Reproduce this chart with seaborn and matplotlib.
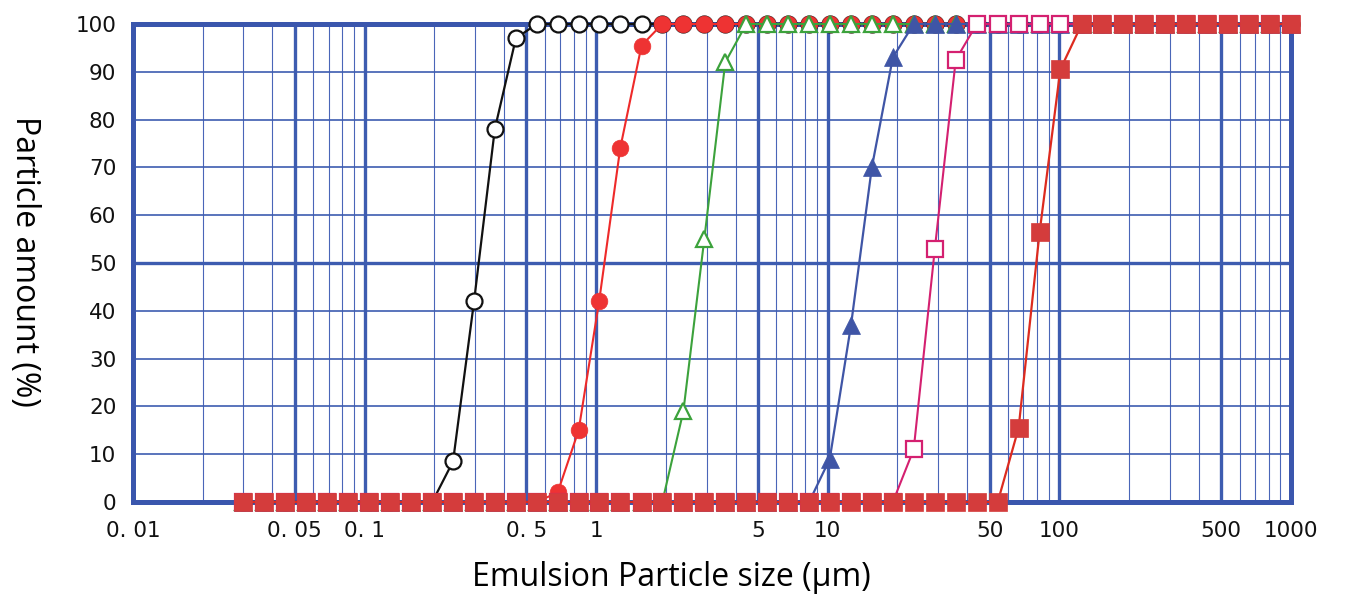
import matplotlib
matplotlib.use('Agg')
import matplotlib.pyplot as plt
from matplotlib.ticker import FixedLocator, LogLocator, NullFormatter
import seaborn as sns

# particle size channels (um)
sizes = [0.030, 0.0369, 0.0455, 0.0560, 0.0690, 0.0850, 0.105, 0.129, 0.159, 0.196,
         0.241, 0.297, 0.365, 0.450, 0.554, 0.682, 0.840, 1.03, 1.27, 1.57,
         1.93, 2.38, 2.93, 3.61, 4.45, 5.48, 6.75, 8.31, 10.2, 12.6,
         15.5, 19.1, 23.5, 29.0, 35.7, 44.0, 54.2, 66.7, 82.2, 101,
         125, 153, 189, 233, 287, 353, 435, 536, 660, 812, 1000]

# cumulative particle amount (%) for each emulsion
black_open = [0, 0, 0, 0, 0, 0, 0, 0, 0, 0,
              8.5, 42, 78, 97, 100, 100, 100, 100, 100, 100,
              100, 100, 100, 100, 100, 100, 100, 100, 100, 100,
              100, 100, 100, 100, 100, 100, 100, 100, 100, 100,
              100, 100, 100, 100, 100, 100, 100, 100, 100, 100, 100]
red_circle = [0, 0, 0, 0, 0, 0, 0, 0, 0, 0,
              0, 0, 0, 0, 0, 2, 15, 42, 74, 95.5,
              100, 100, 100, 100, 100, 100, 100, 100, 100, 100,
              100, 100, 100, 100, 100, 100, 100, 100, 100, 100,
              100, 100, 100, 100, 100, 100, 100, 100, 100, 100, 100]
green_tri = [0, 0, 0, 0, 0, 0, 0, 0, 0, 0,
             0, 0, 0, 0, 0, 0, 0, 0, 0, 0,
             0, 19, 55, 92, 100, 100, 100, 100, 100, 100,
             100, 100, 100, 100, 100, 100, 100, 100, 100, 100,
             100, 100, 100, 100, 100, 100, 100, 100, 100, 100, 100]
blue_tri = [0, 0, 0, 0, 0, 0, 0, 0, 0, 0,
            0, 0, 0, 0, 0, 0, 0, 0, 0, 0,
            0, 0, 0, 0, 0, 0, 0, 0, 9, 37,
            70, 93, 100, 100, 100, 100, 100, 100, 100, 100,
            100, 100, 100, 100, 100, 100, 100, 100, 100, 100, 100]
pink_square = [0, 0, 0, 0, 0, 0, 0, 0, 0, 0,
               0, 0, 0, 0, 0, 0, 0, 0, 0, 0,
               0, 0, 0, 0, 0, 0, 0, 0, 0, 0,
               0, 0, 11, 53, 92.5, 100, 100, 100, 100, 100,
               100, 100, 100, 100, 100, 100, 100, 100, 100, 100, 100]
red_square = [0, 0, 0, 0, 0, 0, 0, 0, 0, 0,
              0, 0, 0, 0, 0, 0, 0, 0, 0, 0,
              0, 0, 0, 0, 0, 0, 0, 0, 0, 0,
              0, 0, 0, 0, 0, 0, 0, 15.5, 56.5, 90.5,
              100, 100, 100, 100, 100, 100, 100, 100, 100, 100, 100]

x_ticks = [0.01, 0.05, 0.1, 0.5, 1, 5, 10, 50, 100, 500, 1000]
x_labels = ['0. 01', '0. 05', '0. 1', '0. 5', '1', '5', '10', '50', '100', '500', '1000']
y_ticks = [0, 10, 20, 30, 40, 50, 60, 70, 80, 90, 100]

grid_blue = '#3d5cb0'

sns.set_style('white')
fig = plt.figure(figsize=(13.46, 5.94), dpi=100)
ax = fig.add_axes([0.0988, 0.1549, 0.8603, 0.8047])

ax.set_xscale('log')
ax.set_xlim(0.01, 1000)
ax.set_ylim(0, 100)

ax.xaxis.set_major_locator(FixedLocator(x_ticks))
ax.set_xticklabels(x_labels)
ax.xaxis.set_minor_locator(LogLocator(base=10, subs=(2, 3, 4, 6, 7, 8, 9)))
ax.xaxis.set_minor_formatter(NullFormatter())
ax.set_yticks(y_ticks)

ax.grid(True, which='major', axis='x', color=grid_blue, lw=2.4)
ax.grid(True, which='minor', axis='x', color='#4a66b8', lw=0.8)
ax.grid(True, which='major', axis='y', color=grid_blue, lw=1.2)
ax.axhline(50, color=grid_blue, lw=2.4, zorder=1)

for s in ax.spines.values():
    s.set_color('#3a56ad')
    s.set_linewidth(3.6)

ax.tick_params(axis='both', which='both', length=0)
ax.tick_params(axis='y', pad=12, labelsize=15.5, labelcolor='#111111')
ax.tick_params(axis='x', pad=14, labelsize=15.5, labelcolor='#111111')

common = dict(ax=ax, estimator=None, sort=False, clip_on=False)

sns.lineplot(x=sizes, y=black_open, color='#111111', lw=1.6, marker='o', ms=11.5,
             markerfacecolor='white', markeredgecolor='#111111', markeredgewidth=1.6,
             zorder=4, **common)
sns.lineplot(x=sizes, y=red_circle, color='#ee2a2a', lw=1.5, marker='o', ms=12,
             markerfacecolor='#ee3333', markeredgecolor='#ee3333', markeredgewidth=0.5,
             zorder=5, **common)
sns.lineplot(x=sizes, y=green_tri, color='#3ca23c', lw=1.5, marker='^', ms=12,
             markerfacecolor='white', markeredgecolor='#3ca23c', markeredgewidth=1.6,
             zorder=6, **common)
sns.lineplot(x=sizes, y=blue_tri, color='#3f55a6', lw=1.6, marker='^', ms=13,
             markerfacecolor='#3f55a6', markeredgecolor='#3f55a6', markeredgewidth=0.5,
             zorder=7, **common)
sns.lineplot(x=sizes, y=pink_square, color='#d42070', lw=1.5, marker='s', ms=11,
             markerfacecolor='white', markeredgecolor='#d42070', markeredgewidth=1.6,
             zorder=8, **common)
sns.lineplot(x=sizes, y=red_square, color='#dd2b1f', lw=1.6, marker='s', ms=13.5,
             markerfacecolor='#d43c3c', markeredgecolor='#d43c3c', markeredgewidth=0.5,
             zorder=9, **common)

label_font = ['Open Sans', 'DejaVu Sans']
ax.set_xlabel('Emulsion Particle size (μm)', fontsize=23, family=label_font, color='black')
ax.xaxis.set_label_coords(0.465, -0.124)
ax.set_ylabel('Particle amount (%)', fontsize=23, family=label_font, color='black',
              rotation=-90)
ax.yaxis.set_label_coords(-0.108, 0.504)

fig.savefig('out.png', dpi=100)
